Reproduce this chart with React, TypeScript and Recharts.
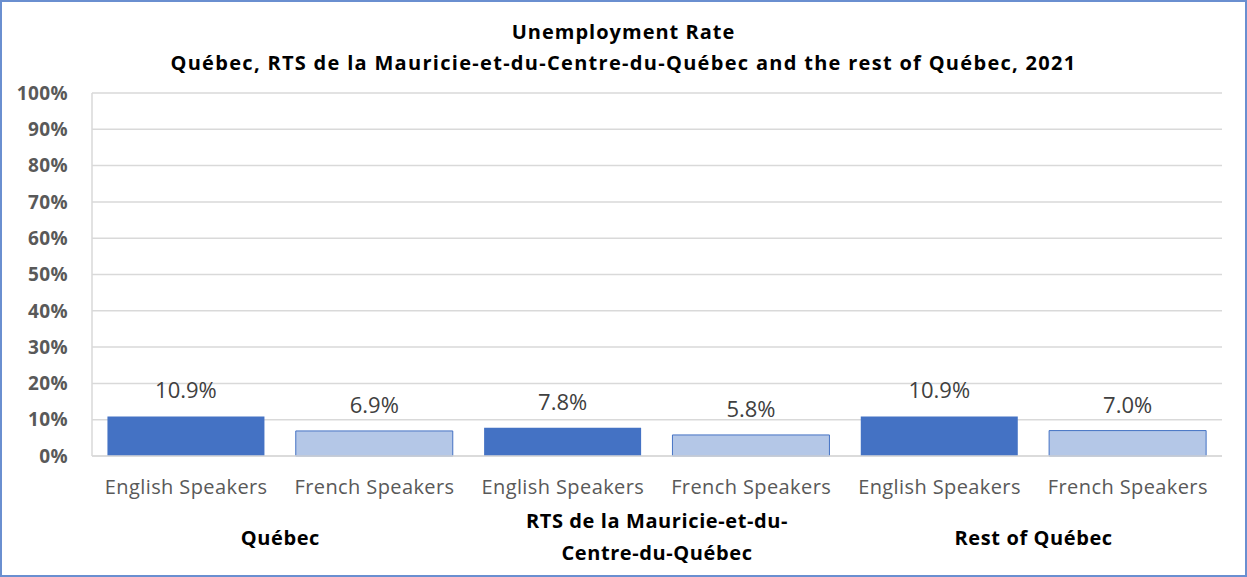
import React from "react";
import {
  BarChart,
  Bar,
  XAxis,
  YAxis,
  CartesianGrid,
  Cell,
  LabelList,
} from "recharts";

const speakers = [
  "English Speakers",
  "French Speakers",
  "English Speakers",
  "French Speakers",
  "English Speakers",
  "French Speakers",
];
const rates = [10.9, 6.9, 7.8, 5.8, 10.9, 7.0];
const groups = [
  ["Québec"],
  ["RTS de la Mauricie-et-du-", "Centre-du-Québec"],
  ["Rest of Québec"],
];
const groupTicks = [1, 3, 5];
const yTicks = [0, 10, 20, 30, 40, 50, 60, 70, 80, 90, 100];
const titleLines = [
  "Unemployment Rate",
  "Québec, RTS de la Mauricie-et-du-Centre-du-Québec and the rest of Québec, 2021",
];

const data = speakers.map((s, i) => ({
  key: `c${i}`,
  pos: i + 0.5,
  speaker: s,
  rate: rates[i],
}));

const FONT = "'Open Sans', Lato, sans-serif";
const DARK = "#4472C4";
const LIGHT = "#B4C7E7";

const GroupTick = (props: any) => {
  const { x, y, payload } = props;
  const idx = groupTicks.indexOf(payload.value);
  const lines = idx >= 0 ? groups[idx] : [];
  const single = lines.length === 1;
  return (
    <g>
      {lines.map((l, i) => (
        <text
          key={i}
          x={x}
          y={single ? y + 49 : y + 32 + i * 32}
          textAnchor="middle"
          fontFamily={FONT}
          fontWeight={700}
          fontSize={20}
          letterSpacing={0.6}
          fill="#000000"
        >
          {l}
        </text>
      ))}
    </g>
  );
};

export default function App() {
  return (
    <div
      style={{
        position: "relative",
        width: 1247,
        height: 577,
        boxSizing: "border-box",
        border: "2px solid #6A8FD0",
        background: "#fff",
        fontFamily: FONT,
      }}
    >
      <style>{`body{margin:0}`}</style>
      {titleLines.map((t, i) => (
        <div
          key={i}
          style={{
            position: "absolute",
            left: 0,
            top: i === 0 ? 17 : 48,
            width: 1243,
            textAlign: "center",
            fontWeight: 700,
            fontSize: 20,
            lineHeight: "26px",
            letterSpacing: i === 0 ? 1.0 : 1.3,
            color: "#000",
          }}
        >
          {t}
        </div>
      ))}
      <div style={{ position: "absolute", left: -2, top: -2 }}>
        <BarChart
          width={1247}
          height={577}
          data={data}
          margin={{ top: 93, left: 32, right: 25, bottom: 11 }}
          barCategoryGap="8.2%"
        >
          <CartesianGrid vertical={false} stroke="#D9D9D9" strokeWidth={1.5} />
          <XAxis
            dataKey="key"
            height={40}
            axisLine={{ stroke: "#D9D9D9", strokeWidth: 1.5 }}
            tickLine={false}
            tickSize={0}
            tickMargin={24}
            interval={0}
            tickFormatter={(_v: any, i: number) => speakers[i]}
            tick={{ fill: "#595959", fontSize: 20, fontFamily: FONT, letterSpacing: 0.4 }}
          />
          <XAxis
            xAxisId="g"
            dataKey="pos"
            type="number"
            domain={[0, 6]}
            ticks={groupTicks}
            allowDataOverflow
            height={70}
            axisLine={false}
            tickLine={false}
            tickSize={0}
            tickMargin={0}
            interval={0}
            tick={<GroupTick />}
          />
          <YAxis
            width={60}
            domain={[0, 100]}
            ticks={yTicks}
            interval={0}
            axisLine={{ stroke: "#D9D9D9", strokeWidth: 1.5 }}
            tickLine={false}
            tickSize={6}
            tickMargin={18}
            tickFormatter={(v: number) => `${v}%`}
            tick={{
              fill: "#595959",
              fontSize: 19,
              fontWeight: 700,
              fontFamily: FONT,
              letterSpacing: 0.4,
            }}
          />
          <YAxis
            yAxisId="r"
            orientation="right"
            width={0}
            domain={[0, 100]}
            tick={false}
            tickLine={false}
            axisLine={{ stroke: "#D9D9D9", strokeWidth: 1.5 }}
          />
          <Bar dataKey="rate" isAnimationActive={false}>
            {data.map((d, i) => (
              <Cell
                key={d.key}
                fill={i % 2 === 0 ? DARK : LIGHT}
                stroke={i % 2 === 0 ? "none" : DARK}
                strokeWidth={1}
              />
            ))}
            <LabelList
              dataKey="rate"
              position="top"
              offset={18}
              formatter={(v: any) => `${Number(v).toFixed(1)}%`}
              fill="#404040"
              fontSize={22}
              fontFamily={FONT}
            />
          </Bar>
        </BarChart>
      </div>
    </div>
  );
}
